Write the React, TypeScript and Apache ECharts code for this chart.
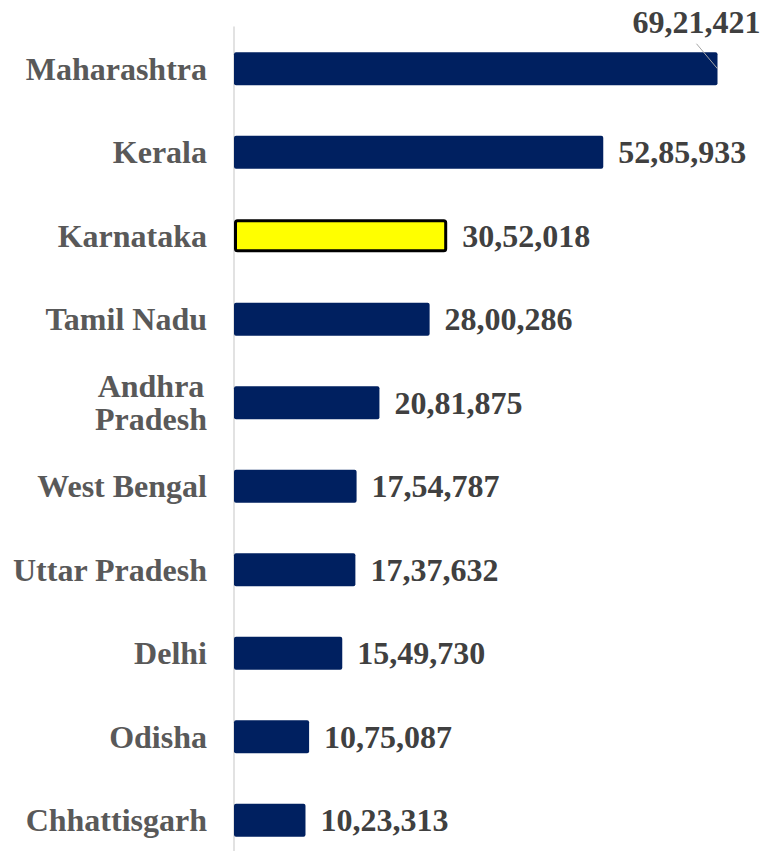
import React, { useEffect, useRef } from "react";
import * as echarts from "echarts";

const categories = [
  "Maharashtra",
  "Kerala",
  "Karnataka",
  "Tamil Nadu",
  "Andhra Pradesh",
  "West Bengal",
  "Uttar Pradesh",
  "Delhi",
  "Odisha",
  "Chhattisgarh",
];
const values = [6921421, 5285933, 3052018, 2800286, 2081875, 1754787, 1737632, 1549730, 1075087, 1023313];
const highlighted = "Karnataka";

const FONT = "'Liberation Serif', 'Times New Roman', serif";

function indianFormat(n: number): string {
  const s = String(Math.round(n));
  if (s.length <= 3) return s;
  const last3 = s.slice(-3);
  let rest = s.slice(0, -3);
  const parts: string[] = [];
  while (rest.length > 2) {
    parts.unshift(rest.slice(-2));
    rest = rest.slice(0, -2);
  }
  if (rest.length) parts.unshift(rest);
  return parts.join(",") + "," + last3;
}

export default function App() {
  const ref = useRef<HTMLDivElement>(null);
  useEffect(() => {
    if (!ref.current) return;
    const chart = echarts.init(ref.current, undefined, { renderer: "svg" });
    const data = values.map((v, i) => {
      const item: any = { value: v };
      if (categories[i] === highlighted) {
        item.itemStyle = { color: "#FFFF00", borderColor: "#000000", borderWidth: 3 };
      }
      return item;
    });
    chart.setOption({
      animation: false,
      backgroundColor: "#ffffff",
      grid: { left: 234, right: 38, top: 27, bottom: 0, containLabel: false },
      xAxis: {
        type: "value",
        min: 0,
        max: 7000000,
        show: false,
        splitLine: { show: false },
      },
      yAxis: {
        type: "category",
        data: categories,
        inverse: true,
        axisTick: { show: false },
        axisLine: { show: true, lineStyle: { color: "#d9d9d9", width: 1.5 } },
        axisLabel: {
          margin: 27,
          color: "#595959",
          fontFamily: FONT,
          fontWeight: "bold",
          fontSize: 32,
          lineHeight: 33,
          align: "right",
          formatter: (v: string) => (v === "Andhra Pradesh" ? "Andhra\u200A\nPradesh" : v),
        },
      },
      series: [
        {
          type: "bar",
          data,
          barWidth: 33,
          itemStyle: { color: "#002060", borderRadius: 2 },
          label: {
            show: true,
            position: "right",
            distance: 15,
            color: "#404040",
            fontFamily: FONT,
            fontWeight: "bold",
            fontSize: 32,
            formatter: (p: any) => indianFormat(p.value),
          },
          labelLayout: (params: any) => {
            if (params.dataIndex !== 0) return {};
            return { dx: -100, dy: -47 };
          },
        },
      ],
    });
    // leader line for the moved top label, anchored at the bar end via the axis scales
    const end = chart.convertToPixel({ gridIndex: 0 }, [values[0], categories[0]]) as number[];
    if (end) {
      const ex = end[0];
      const ey = end[1];
      chart.setOption({
        graphic: [
          {
            type: "line",
            shape: { x1: ex - 21, y1: ey - 25, x2: ex, y2: ey },
            style: { stroke: "#a6a6a6", lineWidth: 1 },
            z: 10,
          },
        ],
      });
    }
    return () => chart.dispose();
  }, []);
  return (
    <div
      ref={ref}
      style={{ position: "fixed", left: 0, top: 0, width: 761, height: 862 }}
    />
  );
}
